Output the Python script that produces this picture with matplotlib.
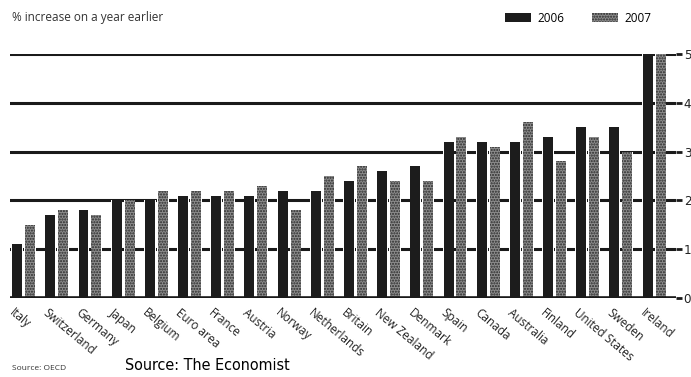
import matplotlib.pyplot as plt
import numpy as np
from matplotlib.patches import Patch

# données
pays = ['Italy', 'Switzerland', 'Germany', 'Japan', 'Belgium', 'Euro area', 'France',
        'Austria', 'Norway', 'Netherlands', 'Britain', 'New Zealand', 'Denmark', 'Spain',
        'Canada', 'Australia', 'Finland', 'United States', 'Sweden', 'Ireland']
val_2006 = [1.1, 1.7, 1.8, 2.0, 2.0, 2.1, 2.1, 2.1, 2.2, 2.2, 2.4, 2.6, 2.7, 3.2,
            3.2, 3.2, 3.3, 3.5, 3.5, 5.6]
val_2007 = [1.5, 1.8, 1.7, 2.0, 2.2, 2.2, 2.2, 2.3, 1.8, 2.5, 2.7, 2.4, 2.4, 3.3,
            3.1, 3.6, 2.8, 3.3, 3.0, 6.4]
yticks = [0, 1, 2, 3, 4, 5]

plt.rcParams['font.family'] = ['Open Sans', 'DejaVu Sans']

fig = plt.figure(figsize=(6.91, 3.77), dpi=100)
ax = fig.add_axes([10/691, 1 - 298/377, 666/691, 244/377])

x = np.arange(len(pays))
w = 0.30
dx = 0.195

# lignes horizontales derriere les barres
for y in yticks[1:]:
    ax.axhline(y, color='#1a1a1a', lw=2.2, zorder=1)
ax.axhline(0, color='#1a1a1a', lw=2.6, zorder=5)

# petit halo blanc autour des barres
ax.bar(x - dx, val_2006, w + 0.05, color='white', zorder=2)
ax.bar(x + dx, val_2007, w + 0.05, color='white', zorder=2)

ax.bar(x - dx, val_2006, w, color='#1c1c1c', zorder=3)
ax.bar(x + dx, val_2007, w, color='#8c8c8c', hatch='......', edgecolor='#2a2a2a', lw=0, zorder=3)

ax.set_xlim(-0.41, 19.66)
ax.set_ylim(0, 5)
for s in ax.spines.values():
    s.set_visible(False)

ax.yaxis.tick_right()
ax.set_yticks(yticks)
ax.set_yticklabels([str(v) for v in yticks], family=['DejaVu Sans'], stretch='condensed')
ax.tick_params(axis='y', length=4, width=2, color='#1a1a1a', pad=1.5, labelsize=9.5, labelcolor='#222')

ax.set_xticks(x - 0.24)
ax.set_xticklabels(pays, rotation=-40, ha='left', va='top', rotation_mode='anchor',
                   fontsize=8.5, color='#222')
ax.tick_params(axis='x', length=0, pad=6)

fig.text(12/691, 1 - 18/377, '% increase on a year earlier', fontsize=8.5, color='#333', va='center')

handles = [Patch(facecolor='#1c1c1c', label='2006'),
           Patch(facecolor='#8c8c8c', hatch='......', edgecolor='#2a2a2a', lw=0, label='2007')]
fig.legend(handles=handles, loc='center right', bbox_to_anchor=(0.958, 1 - 18/377), ncol=2,
           frameon=False, fontsize=8.5, handlelength=2.2, handleheight=0.8, handletextpad=0.5,
           columnspacing=2.4)

fig.text(12/691, 1 - 368/377, 'Source: OECD', fontsize=6, color='#333', va='center')
fig.text(125/691, 1 - 366/377, 'Source: The Economist', fontsize=11.5, color='black', va='center',
         family=['DejaVu Sans'], stretch='condensed')

fig.savefig('out.png', dpi=100)
